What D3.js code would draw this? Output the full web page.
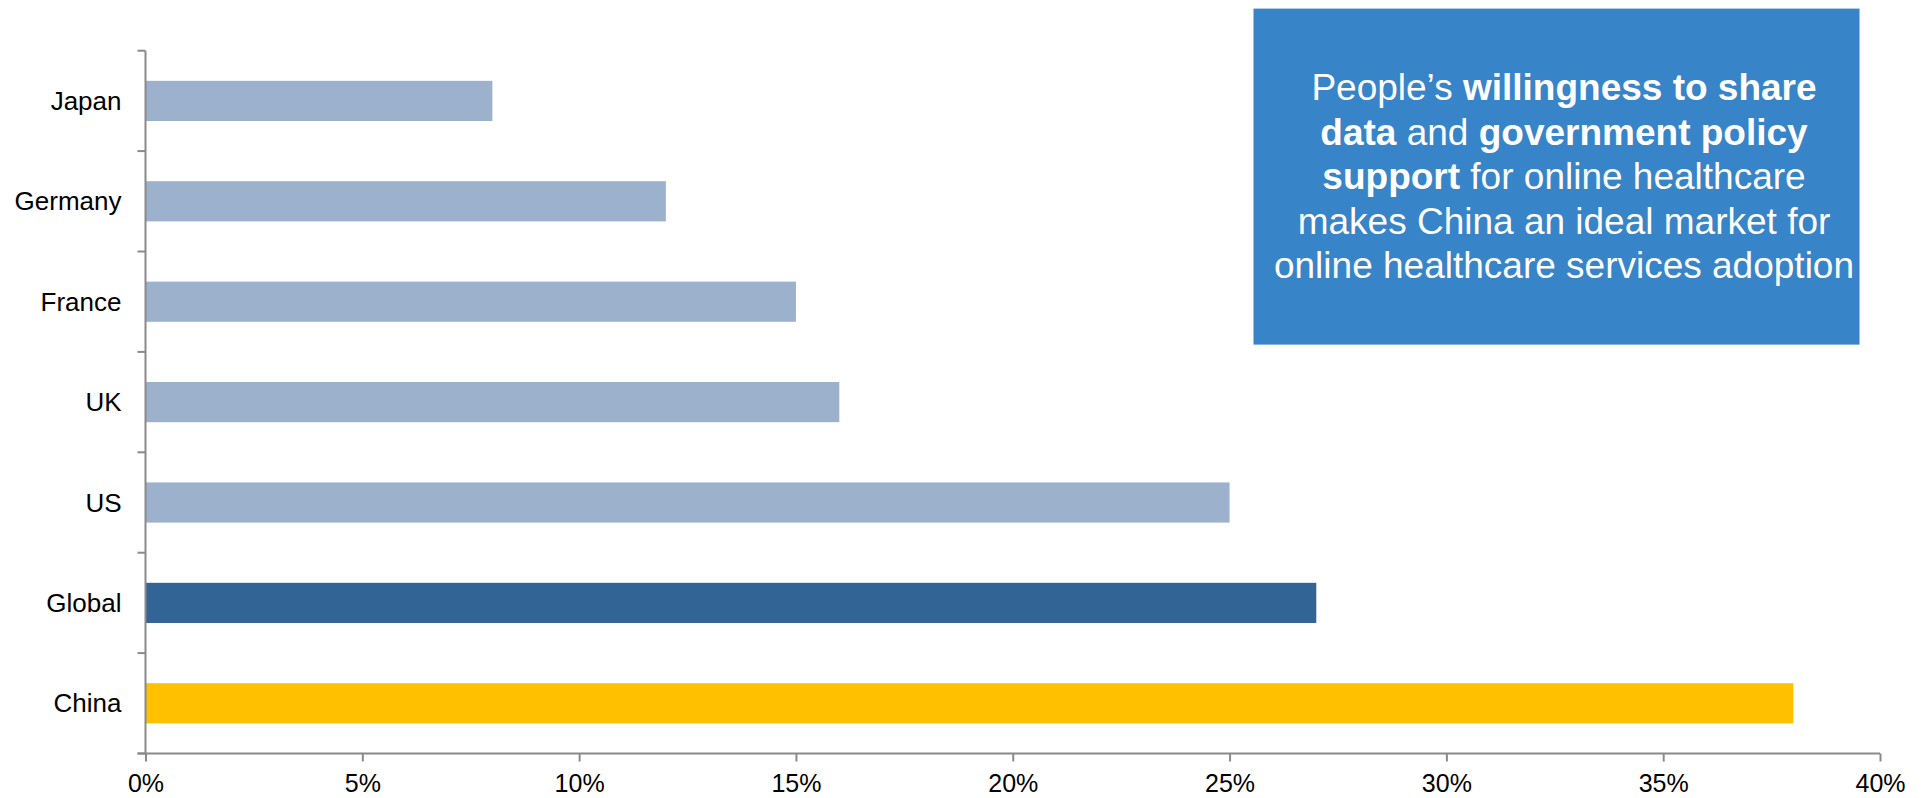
<!DOCTYPE html>
<html>
<head>
<meta charset="utf-8">
<script src="https://cdn.jsdelivr.net/npm/d3@7"></script>
<style>
  html, body { margin: 0; padding: 0; background: #fff; }
  svg { display: block; font-family: Arial, "Liberation Sans", sans-serif; }
</style>
</head>
<body>
<svg id="chart" width="1929" height="798"></svg>
<script>
// ---- data ----
const categories = ["Japan", "Germany", "France", "UK", "US", "Global", "China"];
const values = [8, 12, 15, 16, 25, 27, 38];
const barColors = ["#9BB1CC", "#9BB1CC", "#9BB1CC", "#9BB1CC", "#9BB1CC", "#336496", "#FFC000"];
const xTicks = [0, 5, 10, 15, 20, 25, 30, 35, 40];
const calloutLines = [
  [["People\u2019s ", false], ["willingness to share", true]],
  [["data", true], [" and ", false], ["government policy", true]],
  [["support", true], [" for online healthcare", false]],
  [["makes China an ideal market for", false]],
  [["online healthcare services adoption", false]]
];

const svg = d3.select("#chart");
const mLeft = 145.5, mRight = 1880, mTop = 50.7, mBottom = 753.5;
const axisColor = "#8A8A8A";

const x = d3.scaleLinear().domain([0, 40]).range([mLeft, mRight]);
const y = d3.scaleBand().domain(categories).range([mTop, mBottom])
  .paddingInner(0.6).paddingOuter(0.3);

// bars
svg.append("g").selectAll("rect")
  .data(categories)
  .join("rect")
  .attr("x", x(0))
  .attr("y", d => y(d))
  .attr("width", (d, i) => x(values[i]) - x(0))
  .attr("height", y.bandwidth())
  .attr("fill", (d, i) => barColors[i]);

// x axis
const xAxis = d3.axisBottom(x).tickValues(xTicks).tickSize(8).tickPadding(13)
  .tickFormat(d => d + "%");
const gx = svg.append("g").attr("transform", `translate(0,${mBottom})`).call(xAxis);
gx.select(".domain").attr("stroke", axisColor).attr("stroke-width", 2)
  .attr("d", `M${mLeft - 8},0H${mRight}`);
gx.selectAll(".tick line").attr("stroke", axisColor).attr("stroke-width", 2);
gx.selectAll(".tick text").attr("font-size", 25).attr("fill", "#000")
  .attr("font-family", "Arial, 'Liberation Sans', sans-serif");

// y axis (ticks at category boundaries)
const gy = svg.append("g");
gy.append("line").attr("x1", mLeft).attr("x2", mLeft).attr("y1", mTop).attr("y2", mBottom)
  .attr("stroke", axisColor).attr("stroke-width", 2);
const bounds = d3.range(categories.length + 1).map(i => y.range()[0] + i * y.step());
gy.selectAll("line.t").data(bounds).join("line").attr("class", "t")
  .attr("x1", mLeft - 8).attr("x2", mLeft).attr("y1", d => d).attr("y2", d => d)
  .attr("stroke", axisColor).attr("stroke-width", 2);
gy.selectAll("text").data(categories).join("text")
  .attr("x", mLeft - 24)
  .attr("y", d => y(d) + y.bandwidth() / 2)
  .attr("dy", "0.35em")
  .attr("text-anchor", "end")
  .attr("font-size", 26)
  .attr("fill", "#000")
  .text(d => d);

// callout box
const box = { x: 1253.5, y: 8.6, w: 606, h: 336 };
svg.append("rect").attr("x", box.x).attr("y", box.y).attr("width", box.w).attr("height", box.h)
  .attr("fill", "#3784C8");
const cx = 1564;
const baselines = [100, 144.6, 189.2, 233.8, 278.4];
calloutLines.forEach((line, i) => {
  const t = svg.append("text").attr("x", cx).attr("y", baselines[i])
    .attr("text-anchor", "middle").attr("font-size", 37).attr("fill", "#fff");
  line.forEach(([s, b]) => t.append("tspan").attr("font-weight", b ? "bold" : "normal").text(s));
});
</script>
</body>
</html>
